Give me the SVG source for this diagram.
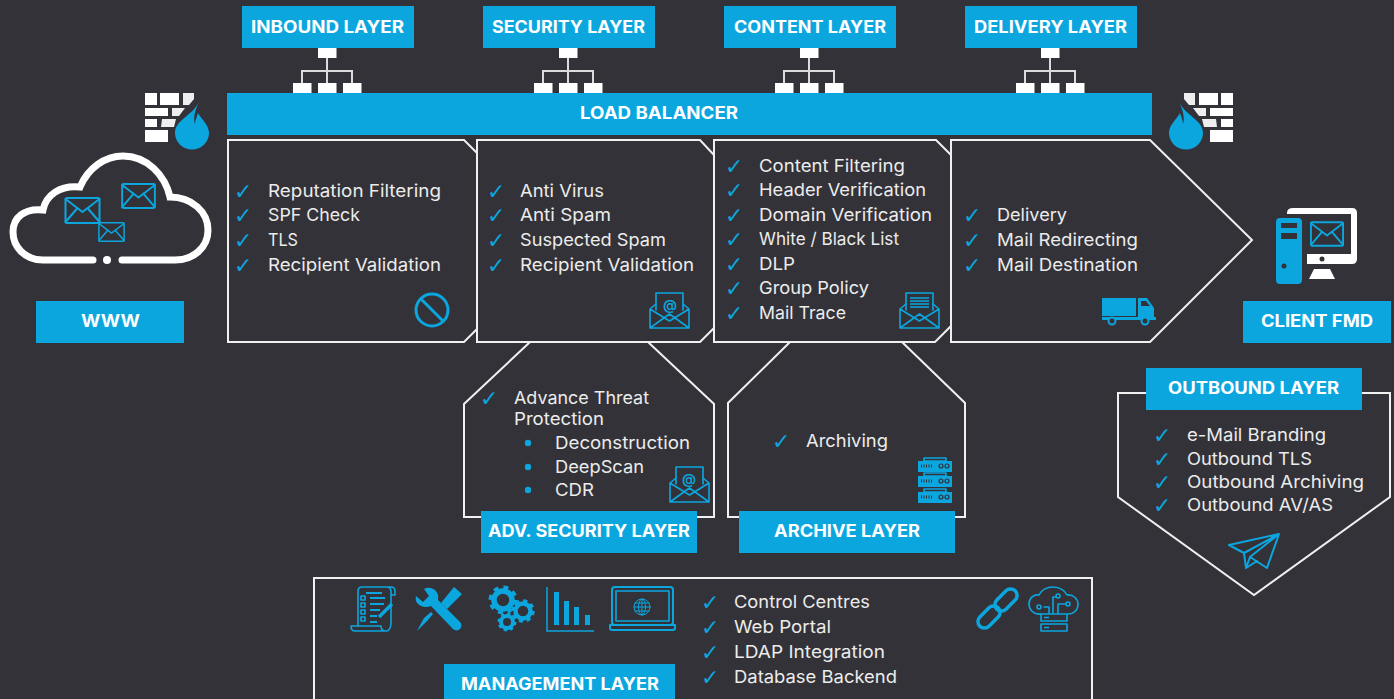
<svg xmlns="http://www.w3.org/2000/svg" width="1394" height="699" viewBox="0 0 1394 699">
<style>
.bg{fill:#333238}
.hd{fill:#0ca6df}
.ht{font-family:"Inter","Liberation Sans",sans-serif;font-weight:700;font-size:17px;fill:#fff}
.t{font-family:"Inter","Liberation Sans",sans-serif;font-weight:400;font-size:17.5px;fill:#ececec}
.c{font-family:"DejaVu Sans",sans-serif;font-size:22px;fill:#0ca6df}
.p{fill:none;stroke:#f0f0f0;stroke-width:2}
.w{fill:#fff}
.b{fill:#0ca6df}
.d{fill:#333238}
.ls{fill:none;stroke:#0ca6df;stroke-width:2;stroke-linejoin:round;stroke-linecap:round}
.ls1{fill:none;stroke:#0ca6df;stroke-width:1.6;stroke-linejoin:round;stroke-linecap:round}
.net{stroke:#dcdcdc;stroke-width:2;fill:none}
</style>
<defs>
<symbol id="env" viewBox="0 0 36 27" overflow="visible"><rect x="1" y="1" width="34" height="25" rx="1.5" class="ls"/><path d="M1,2 L18,15 L35,2 M1,25 L13,11 M35,25 L23,11" class="ls"/></symbol>
<g id="mail"><path d="M0,16 L6,11 M39,16 L33,11 M0,16 V35 H39 V16 L19.500,28 Z M0,35 L19.500,21 L39,35" class="ls1"/><path d="M6,17 V0 H33 V17" class="ls1"/></g>
<g id="srv"><path d="M6,4 V1 H28 V4 Z" class="ls1"/><rect x="0" y="4" width="34" height="11" class="b"/><path d="M3,9 H14" stroke="#333238" stroke-width="3" stroke-dasharray="1 1.500"/><circle cx="23" cy="9" r="2" fill="none" stroke="#333238" stroke-width="1.200"/><circle cx="29" cy="9" r="2" fill="none" stroke="#333238" stroke-width="1.200"/></g>
<g id="net"><rect x="0" y="0" width="18.500" height="10" class="w"/><path d="M9,10 V35 M-16,35 V23 H34 V35" class="net"/><rect x="-25" y="35" width="18.500" height="10" class="w"/><rect x="0" y="35" width="18.500" height="10" class="w"/><rect x="25" y="35" width="18.500" height="10" class="w"/></g>
<g id="fw"><rect x="145" y="93" width="12" height="12" class="w"/><rect x="160" y="93" width="19" height="12" class="w"/><path d="M183,93 H194 V99 L189,105 H183 Z" fill="#eee"/><rect x="145" y="108" width="23" height="8" class="w"/><path d="M172,108 H185 L179,116 H172 Z" fill="#eee"/><rect x="145" y="119" width="12" height="8" class="w"/><path d="M162,119 H176 L174,127 H161 Z" fill="#eee"/><rect x="145" y="130" width="23" height="12" class="w"/><path d="M199,102 C192,116 175,120 175,133 A17,16.500 0 0 0 209,133 C209,125 202,120 198,113 C197,117 195,120 195,124 C193,118 195,110 199,102 Z" class="b"/></g>
</defs>
<rect class="bg" x="0" y="0" width="1394" height="699"/>

<g id="connectors">
<use href="#net" x="318" y="48"/><use href="#net" x="559" y="48"/><use href="#net" x="800" y="48"/><use href="#net" x="1041" y="48"/>
</g>

<g id="load-balancer"><rect class="hd" x="227" y="93" width="925" height="42"/><text class="ht" x="580" y="119" textLength="158" lengthAdjust="spacingAndGlyphs">LOAD BALANCER</text></g>
<g id="inbound-layer"><rect class="hd" x="242" y="6" width="172" height="42"/><text class="ht" x="251" y="33" textLength="153" lengthAdjust="spacingAndGlyphs">INBOUND LAYER</text></g>
<g id="security-layer"><rect class="hd" x="483" y="6" width="172" height="42"/><text class="ht" x="492" y="33" textLength="153" lengthAdjust="spacingAndGlyphs">SECURITY LAYER</text></g>
<g id="content-layer"><rect class="hd" x="724" y="6" width="172" height="42"/><text class="ht" x="734" y="33" textLength="152" lengthAdjust="spacingAndGlyphs">CONTENT LAYER</text></g>
<g id="delivery-layer"><rect class="hd" x="965" y="6" width="172" height="42"/><text class="ht" x="974" y="33" textLength="153" lengthAdjust="spacingAndGlyphs">DELIVERY LAYER</text></g>

<g id="firewall-left"><use href="#fw"/></g>
<g id="firewall-right"><use href="#fw" transform="translate(1378,0) scale(-1,1)"/></g>

<g id="www">
<path d="M93,260 H43 C24,260 13,246 13,232 C13,217 25,208 43,210 C46,195 60,185 80,187 C88,168 105,156 123,156 C147,156 165,175 170,197 C192,197 208,212 208,230 C208,248 193,260 175,260 H122" fill="none" stroke="#fff" stroke-width="7" stroke-linecap="round"/>
<circle cx="107" cy="260" r="4" class="w"/>
<use href="#env" x="64" y="197" width="37" height="27"/>
<use href="#env" x="121" y="183" width="35" height="26"/>
<use href="#env" x="98" y="222" width="27" height="20"/>
<rect class="hd" x="36" y="301" width="148" height="42"/><text class="ht" x="81" y="327" textLength="59" lengthAdjust="spacingAndGlyphs">WWW</text>
</g>

<g id="panel-inbound">
<path class="p" d="M477,329 L464,342 H228 V140 H464 L477,153"/>
<text class="c" x="234" y="199">✓</text><text class="t" x="268" y="197" textLength="173" lengthAdjust="spacingAndGlyphs">Reputation Filtering</text>
<text class="c" x="234" y="223">✓</text><text class="t" x="268" y="221" textLength="92" lengthAdjust="spacingAndGlyphs">SPF Check</text>
<text class="c" x="234" y="248">✓</text><text class="t" x="268" y="246" textLength="30" lengthAdjust="spacingAndGlyphs">TLS</text>
<text class="c" x="234" y="273">✓</text><text class="t" x="268" y="271" textLength="173" lengthAdjust="spacingAndGlyphs">Recipient Validation</text>
<circle cx="432" cy="310" r="16" fill="none" stroke="#0ca6df" stroke-width="3"/><path d="M421,299 L443,321" stroke="#0ca6df" stroke-width="3"/>
</g>

<g id="panel-security">
<path class="p" d="M714,328 L700,342 H477 V140 H700 L714,155"/>
<text class="c" x="487" y="199">✓</text><text class="t" x="520" y="197" textLength="84" lengthAdjust="spacingAndGlyphs">Anti Virus</text>
<text class="c" x="487" y="223">✓</text><text class="t" x="520" y="221" textLength="91" lengthAdjust="spacingAndGlyphs">Anti Spam</text>
<text class="c" x="487" y="248">✓</text><text class="t" x="520" y="246" textLength="146" lengthAdjust="spacingAndGlyphs">Suspected Spam</text>
<text class="c" x="487" y="273">✓</text><text class="t" x="520" y="271" textLength="174" lengthAdjust="spacingAndGlyphs">Recipient Validation</text>
<use href="#mail" x="650" y="293"/>
<text x="670" y="310" text-anchor="middle" font-family="Inter,sans-serif" font-size="14" font-weight="600" fill="#0ca6df">@</text>
</g>

<g id="panel-content">
<path class="p" d="M951,326 L935,342 H714 V140 H936 L951,155"/>
<text class="c" x="725" y="174">✓</text><text class="t" x="759" y="172" textLength="146" lengthAdjust="spacingAndGlyphs">Content Filtering</text>
<text class="c" x="725" y="198">✓</text><text class="t" x="759" y="196" textLength="167" lengthAdjust="spacingAndGlyphs">Header Verification</text>
<text class="c" x="725" y="223">✓</text><text class="t" x="759" y="221" textLength="173" lengthAdjust="spacingAndGlyphs">Domain Verification</text>
<text class="c" x="725" y="247">✓</text><text class="t" x="759" y="245" textLength="140" lengthAdjust="spacingAndGlyphs">White / Black List</text>
<text class="c" x="725" y="272">✓</text><text class="t" x="759" y="270" textLength="36" lengthAdjust="spacingAndGlyphs">DLP</text>
<text class="c" x="725" y="296">✓</text><text class="t" x="759" y="294" textLength="110" lengthAdjust="spacingAndGlyphs">Group Policy</text>
<text class="c" x="725" y="321">✓</text><text class="t" x="759" y="319" textLength="87" lengthAdjust="spacingAndGlyphs">Mail Trace</text>
<use href="#mail" x="900" y="293"/>
<path d="M910,298 H929 M910,301 H929 M910,304 H929 M910,307 H929" stroke="#0ca6df" stroke-width="1.300"/>
</g>

<g id="panel-delivery">
<path class="p" d="M951,140 H1150 L1252,240 L1150,342 H951 Z"/>
<text class="c" x="963" y="223">✓</text><text class="t" x="997" y="221" textLength="70" lengthAdjust="spacingAndGlyphs">Delivery</text>
<text class="c" x="963" y="248">✓</text><text class="t" x="997" y="246" textLength="141" lengthAdjust="spacingAndGlyphs">Mail Redirecting</text>
<text class="c" x="963" y="273">✓</text><text class="t" x="997" y="271" textLength="141" lengthAdjust="spacingAndGlyphs">Mail Destination</text>
<rect x="1102" y="298" width="34" height="18" class="b"/>
<path d="M1138,298 H1147 L1154,308 V318 H1138 Z" class="b"/><path d="M1141,301 H1146 L1150,306 H1141 Z" class="d"/>
<rect x="1102" y="317" width="54" height="3" class="b"/>
<circle cx="1112" cy="321" r="3.500" class="d" stroke="#0ca6df" stroke-width="2"/><circle cx="1145" cy="321" r="3.500" class="d" stroke="#0ca6df" stroke-width="2"/>
</g>

<g id="client-fmd">
<rect x="1276" y="218" width="26" height="66" rx="4" class="b"/>
<rect x="1281" y="223" width="16" height="5" class="d"/><rect x="1281" y="233" width="16" height="6" class="d"/><circle cx="1284" cy="266" r="2.500" class="d"/>
<path class="w" d="M1287,213 Q1287,208 1293,208 H1352 Q1357,208 1357,213 V259 Q1357,264 1352,264 H1307 V254 H1351 V214 H1287 Z"/>
<circle cx="1322" cy="259" r="2.500" class="d"/>
<path class="w" d="M1314,269 H1330 L1335,279 H1309 Z"/>
<use href="#env" x="1310" y="221" width="34" height="26"/>
<rect class="hd" x="1243" y="301" width="148" height="42"/><text class="ht" x="1261" y="327" textLength="112" lengthAdjust="spacingAndGlyphs">CLIENT FMD</text>
</g>

<g id="adv-security-layer">
<path class="p" d="M530,342 L464,404 V517 H714 V404 L648,342"/>
<text class="c" x="480" y="406">✓</text>
<text class="t" x="514" y="404" textLength="135" lengthAdjust="spacingAndGlyphs">Advance Threat</text>
<text class="t" x="514" y="425" textLength="90" lengthAdjust="spacingAndGlyphs">Protection</text>
<circle cx="528" cy="443" r="3.200" class="b"/><text class="t" x="555" y="449" textLength="135" lengthAdjust="spacingAndGlyphs">Deconstruction</text>
<circle cx="528" cy="467" r="3.200" class="b"/><text class="t" x="555" y="473" textLength="89" lengthAdjust="spacingAndGlyphs">DeepScan</text>
<circle cx="528" cy="490" r="3.200" class="b"/><text class="t" x="555" y="496" textLength="39" lengthAdjust="spacingAndGlyphs">CDR</text>
<use href="#mail" x="670" y="467"/>
<text x="689" y="484" text-anchor="middle" font-family="Inter,sans-serif" font-size="14" font-weight="600" fill="#0ca6df">@</text>
<rect class="hd" x="481" y="511" width="216" height="42"/><text class="ht" x="488" y="537" textLength="202" lengthAdjust="spacingAndGlyphs">ADV. SECURITY LAYER</text>
</g>

<g id="archive-layer">
<path class="p" d="M790,342 L728,403 V517 H965 V403 L902,342"/>
<text class="c" x="772" y="449">✓</text><text class="t" x="806" y="447" textLength="82" lengthAdjust="spacingAndGlyphs">Archiving</text>
<use href="#srv" x="918" y="457"/><use href="#srv" x="918" y="472"/><use href="#srv" x="918" y="488"/>
<rect class="hd" x="739" y="511" width="216" height="42"/><text class="ht" x="774" y="537" textLength="146" lengthAdjust="spacingAndGlyphs">ARCHIVE LAYER</text>
</g>

<g id="outbound-layer">
<path class="p" d="M1146,393 H1118 V497 L1254,595 L1390,497 V393 H1362"/>
<rect class="hd" x="1146" y="368" width="216" height="42"/><text class="ht" x="1168" y="394" textLength="171" lengthAdjust="spacingAndGlyphs">OUTBOUND LAYER</text>
<text class="c" x="1153" y="443">✓</text><text class="t" x="1187" y="441" textLength="139" lengthAdjust="spacingAndGlyphs">e-Mail Branding</text>
<text class="c" x="1153" y="467">✓</text><text class="t" x="1187" y="465" textLength="125" lengthAdjust="spacingAndGlyphs">Outbound TLS</text>
<text class="c" x="1153" y="490">✓</text><text class="t" x="1187" y="488" textLength="177" lengthAdjust="spacingAndGlyphs">Outbound Archiving</text>
<text class="c" x="1153" y="513">✓</text><text class="t" x="1187" y="511" textLength="146" lengthAdjust="spacingAndGlyphs">Outbound AV/AS</text>
<path class="ls" d="M1279,534 L1229,545 L1244,553 L1279,534 L1267,568 L1250,557 L1279,534 M1244,553 L1246,568 L1257,561 M1250,557 L1246,568"/>
</g>

<g id="management-layer">
<path class="p" d="M314,699 V578 H1092 V699"/>
<rect class="hd" x="444" y="664" width="231" height="35"/><text class="ht" x="461" y="690" textLength="198" lengthAdjust="spacingAndGlyphs">MANAGEMENT LAYER</text>
<text class="c" x="701" y="610">✓</text><text class="t" x="734" y="608" textLength="136" lengthAdjust="spacingAndGlyphs">Control Centres</text>
<text class="c" x="701" y="635">✓</text><text class="t" x="734" y="633" textLength="97" lengthAdjust="spacingAndGlyphs">Web Portal</text>
<text class="c" x="701" y="660">✓</text><text class="t" x="734" y="658" textLength="151" lengthAdjust="spacingAndGlyphs">LDAP Integration</text>
<text class="c" x="701" y="685">✓</text><text class="t" x="734" y="683" textLength="163" lengthAdjust="spacingAndGlyphs">Database Backend</text>
<!-- scroll -->
<path class="ls1" d="M358,626 V591 Q358,587 362,587 H391 Q395,587 395,591 V595 H391 V592 Q391,587 387,587 M391,595 V622 Q391,631 386,631 H355 Q351,631 351,626 H381 Q381,631 386,631"/>
<path d="M366,593 H382 M370,598 H385 M370,604 H384 M370,610 H380 M370,616 H377 M370,622 H377" stroke="#0ca6df" stroke-width="1.800"/>
<path class="ls1" d="M361,596 h4 v4 h-4 z M361,603 h4 v4 h-4 z M361,610 h4 v4 h-4 z M361,617 h4 v4 h-4 z"/>
<path d="M379,617 L392,604" stroke="#0ca6df" stroke-width="3.500"/>
<!-- tools -->
<path class="b" d="M416,596 L423,602 L429,596 L424,589 C431,585 440,591 438,600 L460,622 A4.500,4.500 0 0 1 453,629 L431,606 C422,609 414,604 416,596 Z"/>
<path class="b" d="M441,603 L454,587 L462,594 L447,609 Z M417,631 L424,618 L431,612 L433,614 L428,620 Z"/>
<!-- gears -->
<g fill="none" stroke="#0ca6df">
<circle cx="503" cy="600" r="9" stroke-width="5.500"/><circle cx="503" cy="600" r="12.500" stroke-width="4" stroke-dasharray="4.900 4.920"/>
<circle cx="523" cy="611" r="7.500" stroke-width="4.500"/><circle cx="523" cy="611" r="10" stroke-width="3.500" stroke-dasharray="3.900 3.950"/>
<circle cx="507" cy="622" r="6" stroke-width="4"/><circle cx="507" cy="622" r="8" stroke-width="3" stroke-dasharray="3.100 3.180"/>
</g>
<!-- chart -->
<path d="M547,587 V631 H594" fill="none" stroke="#0ca6df" stroke-width="1.500"/>
<rect x="554" y="592" width="5" height="33" class="b"/><rect x="564" y="601" width="5" height="24" class="b"/><rect x="574" y="607" width="5" height="18" class="b"/><rect x="585" y="615" width="5" height="10" class="b"/>
<!-- laptop -->
<rect x="612" y="587" width="61" height="38" rx="3" class="ls"/><rect x="616" y="591" width="53" height="30" class="ls1"/>
<path class="ls" d="M610,625 H675 V628 Q675,630 673,630 H612 Q610,630 610,628 Z"/>
<g class="ls1" style="stroke-width:1"><circle cx="642" cy="607" r="8"/><ellipse cx="642" cy="607" rx="3.500" ry="8"/><path d="M634,607 H650 M635,603 H649 M635,611 H649 M642,599 V615"/></g>
<!-- chain -->
<g fill="none" stroke="#0ca6df" stroke-width="3.500">
<rect x="-6.500" y="-13" width="13" height="26" rx="6.500" transform="translate(1006,600) rotate(45)"/>
<rect x="-6.500" y="-13" width="13" height="26" rx="6.500" transform="translate(989,617) rotate(45)"/>
</g>
<!-- cloud circuit -->
<path class="ls1" d="M1041,614 C1033,615 1029,609 1029,604 C1029,598 1034,594 1039,595 C1041,590 1047,587 1053,587 C1060,587 1065,591 1067,595 C1073,594 1078,599 1078,604 C1078,610 1074,614 1068,614"/>
<rect x="1041" y="614" width="26" height="7" class="ls1"/><rect x="1041" y="624" width="26" height="7" class="ls1"/>
<path class="ls1" d="M1049,613 V607 L1044,607 M1053,613 V597 H1056 M1058,613 V604 H1065"/>
<circle cx="1039" cy="607" r="2" class="ls1"/><circle cx="1058" cy="596" r="2" class="ls1"/><circle cx="1068" cy="604" r="2" class="ls1"/>
<path d="M1044,617.500 h5 M1044,627.500 h5" stroke="#0ca6df" stroke-width="1.500"/>
</g>
</svg>
